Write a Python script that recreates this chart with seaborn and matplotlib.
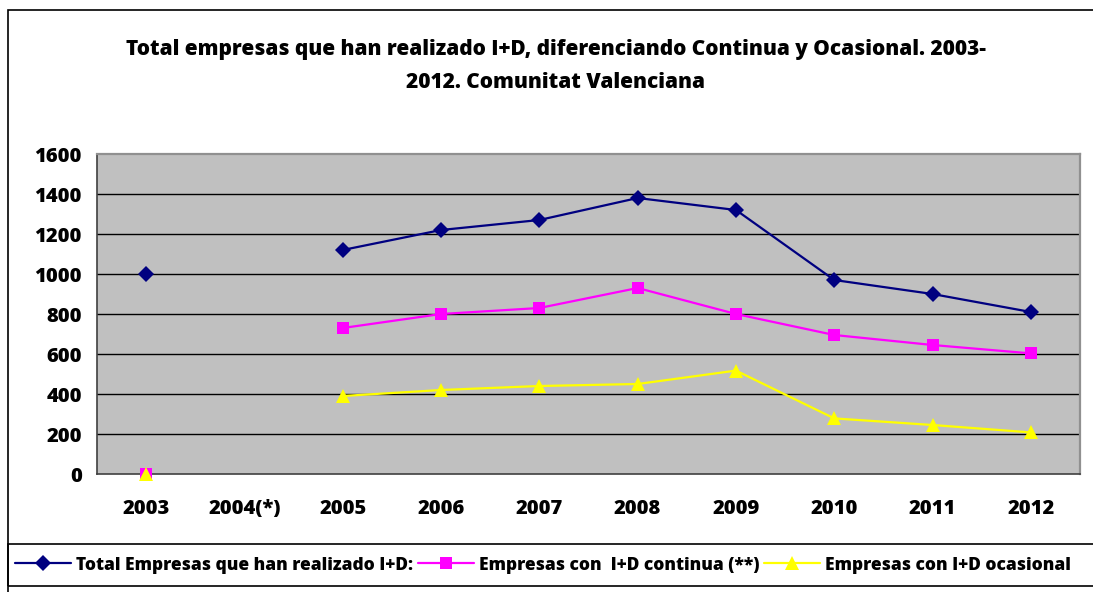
import matplotlib
matplotlib.use('Agg')
import matplotlib.pyplot as plt
import seaborn as sns
import pandas as pd
import numpy as np
from matplotlib.patches import Rectangle
from matplotlib.lines import Line2D

years = ['2003', '2004(*)', '2005', '2006', '2007', '2008', '2009', '2010', '2011', '2012']
total = [1000, np.nan, 1120, 1220, 1270, 1380, 1320, 970, 900, 810]
continua = [0, np.nan, 730, 800, 830, 930, 800, 695, 645, 603]
ocasional = [0, np.nan, 390, 420, 440, 450, 517, 278, 245, 208]
series_names = ['Total Empresas que han realizado I+D:',
                'Empresas con  I+D continua (**)',
                'Empresas con I+D ocasional']
colors = ['#000080', '#FF00FF', '#FFFF00']
markers = ['D', 's', '^']
msizes = [8, 8.5, 9.5]
title_lines = ['Total empresas que han realizado I+D, diferenciando Continua y Ocasional. 2003-',
               '2012. Comunitat Valenciana']
yticks = [0, 200, 400, 600, 800, 1000, 1200, 1400, 1600]

sns.set_theme(style='white')
plt.rcParams['font.family'] = ['Open Sans', 'DejaVu Sans']
WEIGHT = 800
plt.rcParams['font.weight'] = WEIGHT
plt.rcParams['text.color'] = 'black'
plt.rcParams['xtick.color'] = 'black'
plt.rcParams['ytick.color'] = 'black'
plt.rcParams['xtick.labelcolor'] = 'black'
plt.rcParams['ytick.labelcolor'] = 'black'

rows = []
for name, vals in zip(series_names, [total, continua, ocasional]):
    for i, v in enumerate(vals):
        if not np.isnan(v):
            rows.append({'pos': i, 'value': v, 'series': name, 'segment': 0 if i < 1 else 1})
df = pd.DataFrame(rows)

fig = plt.figure(figsize=(10.93, 5.92), dpi=100)
W, H = 1093, 592
ax = fig.add_axes([97 / W, 1 - 474 / H, (1080 - 97) / W, (474 - 154) / H])
ax.set_facecolor('#C0C0C0')

for name, c, m, ms in zip(series_names, colors, markers, msizes):
    sub = df[df['series'] == name]
    sns.lineplot(data=sub, x='pos', y='value', units='segment', estimator=None,
                 color=c, marker=m, markersize=ms, markeredgewidth=0,
                 linewidth=1.6, ax=ax, legend=False, sort=True)
for ln in ax.lines:
    ln.set_clip_on(False)
    ln.set_zorder(3)

ax.set_xlim(-0.5, 9.5)
ax.set_ylim(0, 1600)
ax.set_yticks(yticks)
ax.set_yticklabels([str(t) for t in yticks], fontsize=14.5, fontweight=WEIGHT, color='black')
ax.set_xticks(range(len(years)))
ax.set_xticklabels(years, fontsize=14.5, fontweight=WEIGHT, color='black')
for lbl in ax.get_xticklabels():
    lbl.set_verticalalignment('baseline')
ax.set_xticks(np.arange(-0.5, 10, 1), minor=True)
ax.tick_params(axis='x', which='major', length=0, pad=29)
ax.tick_params(axis='x', which='minor', length=6, width=1, color='#404040', direction='out')
ax.tick_params(axis='y', which='major', length=6, width=1, color='#404040', direction='out', pad=5)
ax.set_xlabel('')
ax.set_ylabel('')
ax.grid(False)
for y in yticks[1:-1]:
    ax.axhline(y, color='black', linewidth=1, zorder=0.5)
for s in ['top', 'right']:
    ax.spines[s].set_color('#909090')
    ax.spines[s].set_linewidth(1.6)
for s in ['left', 'bottom']:
    ax.spines[s].set_color('#404040')
    ax.spines[s].set_linewidth(1.2)

for line, ybase in zip(title_lines, [55, 88]):
    fig.text(556 / W, 1 - ybase / H, line, ha='center', va='baseline', fontsize=15,
             fontweight=WEIGHT, color='black')

# outer frame and legend box
fig.patches.append(Rectangle((8 / W, -0.1), 2, 1.1 - 10 / H, transform=fig.transFigure,
                             fill=False, edgecolor='black', linewidth=1.2))
fig.patches.append(Rectangle((8 / W, 1 - 586 / H), 2, (586 - 544) / H, transform=fig.transFigure,
                             fill=False, edgecolor='black', linewidth=1.2))

handles = [Line2D([], [], color=c, marker=m, markersize=ms, markeredgewidth=0, linewidth=1.6)
           for c, m, ms in zip(colors, markers, msizes)]
leg = fig.legend(handles, series_names, loc='center left', bbox_to_anchor=(15 / W, 1 - 565 / H),
                 ncol=3, frameon=False, handlelength=3.2, handletextpad=0.3, columnspacing=0.3,
                 prop={'size': 12.5, 'weight': WEIGHT}, borderaxespad=0, borderpad=0)
for t in leg.get_texts():
    t.set_color('black')

fig.savefig('out.png', dpi=100)
